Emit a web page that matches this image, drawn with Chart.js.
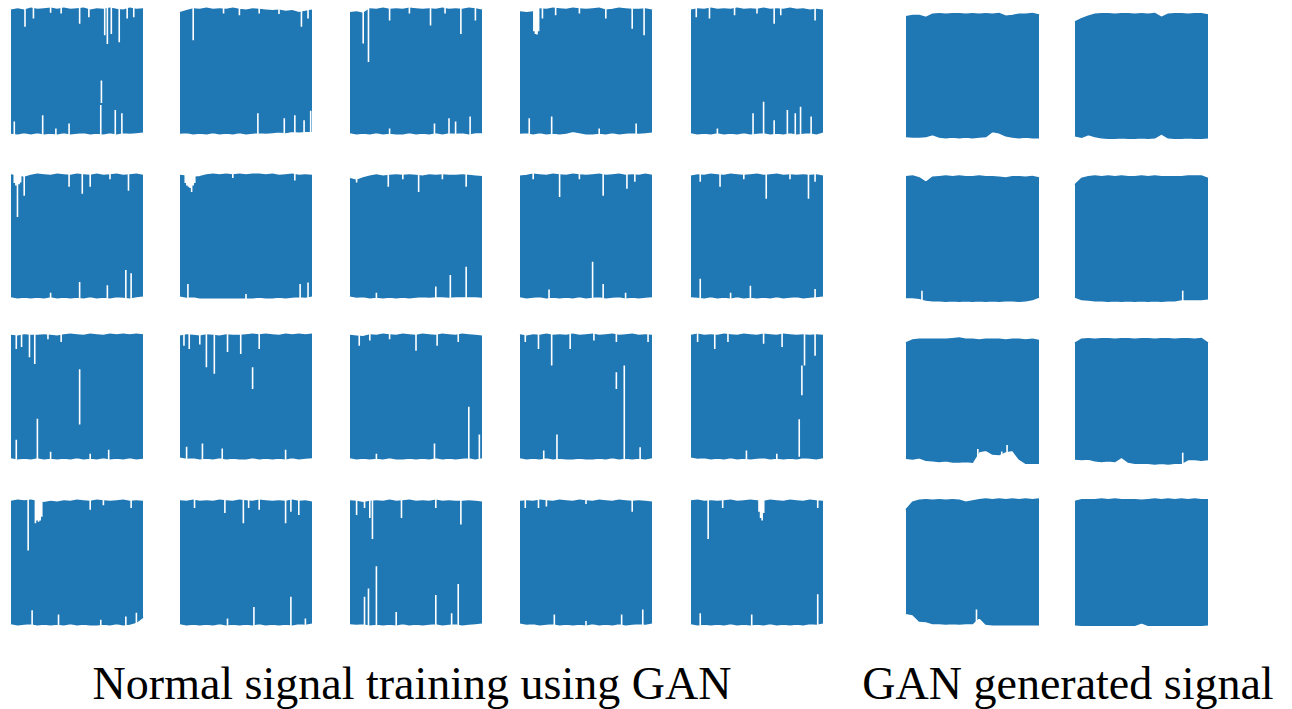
<!DOCTYPE html>
<html>
<head>
<meta charset="utf-8">
<script src="https://cdn.jsdelivr.net/npm/chart.js@4.4.1/dist/chart.umd.min.js"></script>
<style>
  body { margin: 0; background: #fff; width: 1292px; height: 709px; overflow: hidden; position: relative; }
  canvas.panel { position: absolute; }
</style>
</head>
<body>
<div id="cap1" style="position:absolute;top:661px;left:62px;width:700px;height:46px;line-height:46px;text-align:center;white-space:nowrap;color:#000;font-family:'Liberation Serif';font-size:46px;">Normal signal training using GAN</div>
<div id="cap2" style="position:absolute;top:661px;left:818px;width:500px;height:46px;line-height:46px;text-align:center;white-space:nowrap;color:#000;font-family:'Liberation Serif';font-size:46px;">GAN generated signal</div>

<script>
// sample positions along each panel (0..100)
const xSteps = [0, 5, 10, 15, 20, 25, 30, 35, 40, 45, 50, 55, 60, 65, 70, 75, 80, 85, 90, 95, 100];

// normal (training) signals, 4 rows x 5 cols, upper / lower envelope
const normalTop = [
  [0.95,0.97,0.95,0.98,0.96,0.97,0.98,0.96,0.98,0.96,0.97,0.98,0.95,0.97,0.96,0.98,0.96,0.95,0.98,0.96,0.97],
  [0.91,0.94,0.97,0.96,0.98,0.96,0.97,0.96,0.98,0.96,0.95,0.97,0.96,0.95,0.94,0.95,0.93,0.94,0.91,0.93,0.95],
  [0.91,0.92,0.90,0.97,0.96,0.98,0.96,0.97,0.96,0.98,0.97,0.96,0.97,0.96,0.98,0.96,0.97,0.96,0.98,0.97,0.95],
  [0.92,0.91,0.92,0.97,0.96,0.98,0.97,0.96,0.98,0.97,0.96,0.97,0.98,0.95,0.96,0.98,0.97,0.96,0.96,0.97,0.95],
  [0.95,0.97,0.96,0.98,0.96,0.97,0.96,0.98,0.96,0.97,0.96,0.98,0.96,0.97,0.96,0.98,0.96,0.97,0.95,0.96,0.95],
  [0.97,0.95,0.93,0.96,0.98,0.97,0.96,0.98,0.97,0.96,0.98,0.97,0.96,0.98,0.96,0.97,0.98,0.96,0.97,0.98,0.96],
  [0.96,0.95,0.93,0.94,0.97,0.98,0.97,0.98,0.97,0.98,0.97,0.98,0.98,0.97,0.98,0.96,0.97,0.98,0.96,0.97,0.96],
  [0.91,0.88,0.92,0.95,0.97,0.95,0.96,0.97,0.96,0.97,0.96,0.95,0.97,0.96,0.97,0.96,0.96,0.97,0.96,0.95,0.94],
  [0.95,0.96,0.98,0.97,0.96,0.98,0.97,0.96,0.98,0.97,0.96,0.97,0.98,0.96,0.97,0.98,0.96,0.97,0.96,0.98,0.96],
  [0.95,0.97,0.96,0.98,0.97,0.96,0.98,0.97,0.96,0.97,0.98,0.96,0.97,0.98,0.96,0.97,0.96,0.97,0.96,0.97,0.95],
  [0.96,0.95,0.97,0.96,0.96,0.97,0.96,0.95,0.97,0.98,0.97,0.96,0.98,0.97,0.96,0.98,0.97,0.98,0.97,0.98,0.97],
  [0.95,0.97,0.96,0.95,0.97,0.96,0.95,0.97,0.96,0.96,0.97,0.98,0.97,0.98,0.97,0.96,0.98,0.97,0.98,0.97,0.98],
  [0.96,0.95,0.94,0.97,0.96,0.98,0.97,0.96,0.98,0.97,0.96,0.98,0.97,0.96,0.98,0.97,0.96,0.98,0.97,0.96,0.95],
  [0.97,0.95,0.97,0.96,0.98,0.96,0.97,0.96,0.98,0.96,0.97,0.98,0.96,0.97,0.98,0.96,0.97,0.98,0.96,0.97,0.96],
  [0.96,0.98,0.96,0.97,0.96,0.98,0.97,0.96,0.98,0.97,0.96,0.98,0.97,0.96,0.98,0.97,0.96,0.97,0.96,0.97,0.96],
  [0.96,0.98,0.97,0.98,0.96,0.94,0.96,0.95,0.97,0.96,0.98,0.97,0.96,0.98,0.97,0.96,0.97,0.98,0.96,0.97,0.96],
  [0.97,0.96,0.98,0.96,0.97,0.96,0.98,0.97,0.96,0.98,0.97,0.96,0.98,0.97,0.96,0.97,0.96,0.98,0.96,0.97,0.95],
  [0.97,0.96,0.94,0.96,0.97,0.96,0.98,0.96,0.97,0.98,0.96,0.97,0.96,0.98,0.96,0.97,0.96,0.96,0.97,0.96,0.95],
  [0.96,0.97,0.96,0.98,0.97,0.96,0.98,0.97,0.96,0.98,0.97,0.96,0.98,0.97,0.96,0.98,0.97,0.96,0.97,0.96,0.95],
  [0.97,0.98,0.96,0.97,0.96,0.97,0.98,0.96,0.97,0.98,0.97,0.96,0.98,0.97,0.96,0.98,0.97,0.96,0.98,0.97,0.96]
];
const normalBottom = [
  [-0.97,-0.98,-0.96,-0.98,-0.96,-0.98,-0.97,-0.98,-0.96,-0.98,-0.97,-0.96,-0.98,-0.97,-0.98,-0.96,-0.98,-0.96,-0.97,-0.96,-0.95],
  [-0.97,-0.96,-0.98,-0.97,-0.98,-0.96,-0.98,-0.97,-0.98,-0.96,-0.98,-0.97,-0.96,-0.97,-0.96,-0.95,-0.96,-0.94,-0.95,-0.94,-0.94],
  [-0.96,-0.98,-0.97,-0.98,-0.96,-0.98,-0.97,-0.98,-0.98,-0.96,-0.98,-0.97,-0.98,-0.96,-0.98,-0.96,-0.97,-0.96,-0.98,-0.96,-0.96],
  [-0.97,-0.96,-0.98,-0.96,-0.98,-0.97,-0.98,-0.97,-0.94,-0.96,-0.98,-0.98,-0.97,-0.98,-0.96,-0.98,-0.97,-0.96,-0.97,-0.96,-0.95],
  [-0.96,-0.98,-0.97,-0.98,-0.96,-0.98,-0.97,-0.98,-0.96,-0.98,-0.97,-0.96,-0.98,-0.97,-0.98,-0.96,-0.98,-0.97,-0.96,-0.98,-0.95],
  [-0.96,-0.98,-0.97,-0.98,-0.97,-0.98,-0.96,-0.98,-0.97,-0.98,-0.97,-0.98,-0.96,-0.98,-0.97,-0.98,-0.96,-0.97,-0.98,-0.96,-0.95],
  [-0.95,-0.97,-0.96,-0.98,-0.98,-0.98,-0.98,-0.98,-0.98,-0.98,-0.98,-0.98,-0.97,-0.98,-0.98,-0.97,-0.98,-0.97,-0.96,-0.97,-0.95],
  [-0.95,-0.97,-0.96,-0.98,-0.97,-0.98,-0.97,-0.98,-0.97,-0.98,-0.97,-0.96,-0.97,-0.96,-0.96,-0.97,-0.96,-0.96,-0.96,-0.96,-0.97],
  [-0.96,-0.98,-0.97,-0.96,-0.98,-0.97,-0.98,-0.97,-0.98,-0.96,-0.98,-0.97,-0.96,-0.98,-0.97,-0.96,-0.98,-0.97,-0.98,-0.97,-0.96],
  [-0.96,-0.97,-0.98,-0.96,-0.98,-0.97,-0.98,-0.96,-0.98,-0.97,-0.98,-0.97,-0.98,-0.96,-0.98,-0.97,-0.96,-0.98,-0.97,-0.96,-0.95],
  [-0.96,-0.98,-0.97,-0.98,-0.96,-0.98,-0.97,-0.98,-0.97,-0.98,-0.96,-0.98,-0.97,-0.98,-0.96,-0.98,-0.97,-0.98,-0.96,-0.98,-0.97],
  [-0.95,-0.97,-0.96,-0.98,-0.97,-0.98,-0.96,-0.98,-0.97,-0.98,-0.98,-0.96,-0.98,-0.97,-0.98,-0.97,-0.98,-0.96,-0.98,-0.97,-0.96],
  [-0.96,-0.98,-0.97,-0.98,-0.97,-0.98,-0.96,-0.98,-0.98,-0.97,-0.98,-0.97,-0.98,-0.96,-0.98,-0.97,-0.98,-0.97,-0.96,-0.98,-0.96],
  [-0.96,-0.98,-0.97,-0.98,-0.96,-0.98,-0.97,-0.98,-0.98,-0.97,-0.98,-0.98,-0.97,-0.98,-0.96,-0.98,-0.97,-0.98,-0.97,-0.98,-0.96],
  [-0.95,-0.97,-0.96,-0.98,-0.97,-0.98,-0.96,-0.98,-0.97,-0.98,-0.97,-0.96,-0.98,-0.97,-0.98,-0.97,-0.98,-0.96,-0.97,-0.98,-0.96],
  [-0.96,-0.98,-0.97,-0.96,-0.98,-0.97,-0.98,-0.97,-0.98,-0.96,-0.98,-0.97,-0.98,-0.98,-0.97,-0.98,-0.96,-0.98,-0.97,-0.94,-0.86],
  [-0.96,-0.98,-0.97,-0.98,-0.97,-0.98,-0.96,-0.98,-0.97,-0.98,-0.97,-0.98,-0.96,-0.98,-0.97,-0.98,-0.97,-0.98,-0.96,-0.97,-0.95],
  [-0.96,-0.97,-0.96,-0.98,-0.97,-0.98,-0.97,-0.98,-0.96,-0.98,-0.97,-0.98,-0.97,-0.96,-0.98,-0.97,-0.96,-0.98,-0.97,-0.96,-0.95],
  [-0.95,-0.97,-0.96,-0.98,-0.97,-0.96,-0.98,-0.97,-0.98,-0.97,-0.98,-0.96,-0.98,-0.97,-0.98,-0.96,-0.98,-0.97,-0.96,-0.97,-0.95],
  [-0.96,-0.98,-0.97,-0.98,-0.97,-0.98,-0.96,-0.98,-0.97,-0.98,-0.97,-0.98,-0.96,-0.98,-0.97,-0.98,-0.97,-0.98,-0.96,-0.97,-0.95]
];
// narrow gaps in the signal: [x, yFrom, yTo]
const normalSlivers = [
  [[10.6,1,0.69],[17,1,0.82],[30,1,0.91],[38,1,0.9],[52,1,0.74],[59,1,0.84],[71,1,0.56],[73,1,0.42],[76,1,0.58],[82,1,0.45],[88,1,0.82],[93,1,0.84],[2.5,-1,-0.79],[24,-1,-0.69],[34,-1,-0.9],[44,-1,-0.82],[68,-1,-0.53],[68.5,-0.5,-0.15],[79,-1,-0.61],[84,-1,-0.66]],
  [[10,1,0.48],[33,1,0.9],[45,1,0.87],[60,1,0.9],[75,1,0.89],[92,1,0.69],[97,1,0.82],[59,-1,-0.66],[79,-1,-0.74],[87,-1,-0.69],[94,-1,-0.77],[99,-1,-0.62]],
  [[10,1,0.43],[14,1,0.14],[30,1,0.79],[45,1,0.9],[61,1,0.71],[72,1,0.9],[84,1,0.58],[95,1,0.79],[30,-1,-0.9],[64,-1,-0.82],[75,-1,-0.74],[80,-1,-0.79],[91,-1,-0.71]],
  [[10.5,1,0.62],[11.7,1,0.58],[12.9,1,0.57],[14.1,1,0.62],[17,1,0.82],[27,1,0.87],[45,1,0.9],[65,1,0.82],[85,1,0.66],[94,1,0.56],[7,-1,-0.74],[24,-1,-0.71],[60,-1,-0.9],[88,-1,-0.82]],
  [[4,1,0.84],[14,1,0.82],[33,1,0.87],[50,1,0.9],[63,1,0.74],[68,1,0.87],[94,1,0.79],[20,-1,-0.9],[47,-1,-0.66],[55,-1,-0.48],[63,-1,-0.77],[73,-1,-0.61],[79,-1,-0.66],[83,-1,-0.56],[91,-1,-0.71]],
  [[2.5,1,0.84],[3.7,1,0.8],[4.9,1,0.3],[6.1,1,0.82],[7.3,1,0.85],[10,1,0.64],[44,1,0.78],[54,1,0.67],[60,1,0.78],[75,1,0.9],[89,1,0.72],[30,-1,-0.9],[52,-1,-0.73],[73,-1,-0.78],[87,-1,-0.54],[91,-1,-0.59]],
  [[4,1,0.84],[5.2,1,0.8],[6.4,1,0.78],[7.6,1,0.76],[8.8,1,0.7],[10,1,0.8],[11.2,1,0.84],[40,1,0.92],[87,1,0.88],[6,-1,-0.76],[50,-1,-0.92],[91,-1,-0.76],[97,-1,-0.74]],
  [[5,1,0.85],[29,1,0.78],[40,1,0.9],[52,1,0.7],[70,1,0.9],[88,1,0.78],[20,-1,-0.9],[65,-1,-0.8],[76,-1,-0.62],[88,-1,-0.49]],
  [[10,1,0.9],[30,1,0.62],[45,1,0.9],[63,1,0.64],[81,1,0.75],[87,1,0.86],[22,-1,-0.85],[55,-1,-0.41],[63,-1,-0.76],[80,-1,-0.9]],
  [[7,1,0.86],[22,1,0.78],[40,1,0.9],[57,1,0.59],[75,1,0.9],[89,1,0.59],[94,1,0.86],[7,-1,-0.68],[30,-1,-0.9],[45,-1,-0.79],[94,-1,-0.84]],
  [[4,1,0.75],[8,1,0.78],[14,1,0.62],[18,1,0.51],[28,1,0.9],[38,1,0.86],[52,0.43,-0.44],[20,-0.35,-1],[4,-1,-0.68],[30,-1,-0.87],[60,-1,-0.9],[74,-1,-0.84]],
  [[3,1,0.8],[7,1,0.75],[15,1,0.82],[20,1,0.46],[26,1,0.36],[36,1,0.7],[46,1,0.67],[55,0.46,0.12],[60,1,0.75],[5,-1,-0.79],[17,-1,-0.74],[32,-1,-0.82],[80,-1,-0.84]],
  [[7,1,0.8],[15,1,0.88],[30,1,0.9],[50,1,0.72],[66,1,0.8],[82,1,0.86],[20,-1,-0.9],[64,-1,-0.74],[90,-1,-0.16],[98,-1,-0.6]],
  [[4,1,0.86],[14,1,0.75],[24,1,0.49],[38,1,0.75],[56,1,0.88],[73,1,0.86],[79,0.49,-1],[73,0.38,0.12],[97,1,0.86],[18,-1,-0.85],[28,-1,-0.6],[91,-1,-0.8]],
  [[5,1,0.86],[18,1,0.75],[28,1,0.86],[55,1,0.83],[69,1,0.78],[86,1,0.49],[94,1,0.64],[82,-0.36,-0.95],[84,0.49,0.02],[42,-1,-0.85],[65,-1,-0.9]],
  [[13,1,0.19],[18.5,1,0.62],[19.7,1,0.66],[20.9,1,0.64],[22.1,1,0.66],[23.3,1,0.72],[60,1,0.83],[70,1,0.9],[91,1,0.86],[16,-1,-0.75],[36,-1,-0.82],[68,-1,-0.9],[87,-1,-0.85],[95,-1,-0.79]],
  [[11,1,0.86],[34,1,0.78],[48,1,0.62],[52,1,0.86],[60,1,0.83],[80,1,0.62],[84,1,0.8],[90,1,0.75],[36,-1,-0.88],[56,-1,-0.7],[84,-1,-0.54],[95,-1,-0.88]],
  [[5,1,0.75],[11,1,0.86],[15,1,0.7],[17,1,0.37],[39,1,0.7],[65,1,0.86],[84,1,0.6],[20,-1,-0.06],[11,-1,-0.54],[14,-1,-0.41],[35,-1,-0.78],[65,-1,-0.51],[77,-1,-0.8],[82,-1,-0.34]],
  [[4,1,0.86],[14,1,0.86],[20,1,0.88],[50,1,0.92],[85,1,0.8],[26,-1,-0.82],[50,-1,-0.92],[77,-1,-0.82],[93,-1,-0.74]],
  [[13,1,0.37],[24,1,0.86],[51.5,1,0.8],[52.7,1,0.7],[53.9,1,0.66],[55.1,1,0.78],[96,1,0.86],[7,-1,-0.8],[46,-1,-0.82],[96,-1,-0.5]]
];

// GAN generated signals, 4 rows x 2 cols
const ganTop = [
  [0.94,0.96,0.96,0.93,0.98,0.99,0.98,0.99,0.99,0.98,0.99,0.98,0.99,0.98,0.99,0.95,0.96,0.98,0.98,0.99,0.97],
  [0.86,0.91,0.95,0.98,0.99,0.99,0.98,0.99,0.99,0.98,0.99,0.98,0.99,0.93,0.98,0.99,0.99,0.98,0.99,0.99,0.97],
  [0.99,1.00,0.97,0.90,0.98,0.99,1.00,0.99,1.00,0.99,0.99,1.00,0.99,0.99,0.98,0.97,0.99,0.99,0.98,0.99,0.97],
  [0.86,0.96,0.99,1.00,0.99,1.00,0.99,1.00,0.99,0.99,1.00,0.99,1.00,0.99,0.99,0.99,0.99,1.00,1.00,1.00,0.96],
  [0.92,0.97,0.98,0.98,0.98,0.98,0.98,0.99,1.00,0.98,0.98,0.97,0.98,0.98,0.98,0.97,0.98,0.98,0.97,0.98,0.96],
  [0.92,0.98,0.99,0.98,0.99,0.99,0.98,0.99,0.99,0.98,0.99,0.99,0.98,0.99,0.99,0.98,0.99,0.99,0.98,0.99,0.92],
  [0.83,0.95,0.98,0.99,0.98,0.99,0.98,0.99,0.98,0.95,0.97,0.99,1.00,0.99,1.00,0.99,1.00,0.99,1.00,0.99,1.00],
  [0.96,0.99,0.99,0.99,1.00,0.99,1.00,0.99,0.99,0.99,0.98,0.99,1.00,0.99,1.00,0.99,1.00,0.99,1.00,0.99,0.99]
];
const ganBottom = [
  [-0.96,-0.97,-0.97,-0.96,-0.93,-0.97,-0.98,-0.97,-0.98,-0.97,-0.98,-0.97,-0.96,-0.88,-0.90,-0.95,-0.97,-0.98,-0.97,-0.98,-0.98],
  [-0.95,-0.97,-0.93,-0.96,-0.98,-0.99,-0.99,-0.98,-0.99,-0.99,-0.98,-0.99,-0.98,-0.92,-0.98,-0.99,-0.99,-0.98,-0.99,-0.99,-0.98],
  [-0.93,-0.93,-0.94,-0.97,-0.98,-0.98,-0.99,-0.98,-0.99,-0.98,-0.99,-0.98,-0.99,-0.98,-0.99,-0.98,-0.98,-0.99,-0.98,-0.96,-0.92],
  [-0.92,-0.96,-0.97,-0.98,-0.98,-0.99,-0.98,-0.99,-0.98,-0.99,-0.98,-0.99,-0.98,-0.99,-0.98,-0.98,-0.96,-0.96,-0.96,-0.96,-0.95],
  [-0.91,-0.92,-0.90,-0.94,-0.95,-0.96,-0.95,-0.97,-0.97,-0.96,-0.97,-0.80,-0.78,-0.84,-0.85,-0.80,-0.78,-0.92,-0.99,-0.99,-0.99],
  [-0.92,-0.93,-0.92,-0.95,-0.96,-0.95,-0.96,-0.89,-0.97,-0.99,-0.99,-0.99,-1.00,-0.99,-1.00,-0.99,-0.99,-0.93,-0.93,-0.94,-0.93],
  [-0.80,-0.82,-0.92,-0.93,-0.96,-0.96,-0.97,-0.96,-0.97,-0.96,-0.96,-0.86,-0.97,-0.98,-0.98,-0.98,-0.98,-0.98,-0.98,-0.98,-0.98],
  [-0.98,-0.99,-0.99,-0.99,-0.99,-0.99,-0.99,-0.99,-0.99,-0.99,-0.95,-0.99,-0.99,-0.99,-0.99,-0.99,-0.99,-0.99,-0.99,-0.99,-0.98]
];
const ganSlivers = [
  [],
  [],
  [[12,-1,-0.82]],
  [[81,-1,-0.82]],
  [[54,-1,-0.76],[72,-1,-0.80],[76,-1,-0.70]],
  [[81,-1,-0.82]],
  [[53,-1,-0.74]],
  []
];

const BLUE = '#1f77b4';
const PAD = 4;

// lay the captions out (and resolve their font) before the charts are built
['cap1', 'cap2'].forEach(id => document.getElementById(id).getBoundingClientRect());

function sliverPoints(list) {
  const pts = [];
  list.forEach(s => {
    pts.push({ x: s[0], y: s[1] }, { x: s[0], y: s[2] }, { x: s[0], y: null });
  });
  return pts;
}

function makePanel(left, top, w, h, upper, lower, slivers) {
  const c = document.createElement('canvas');
  c.className = 'panel';
  c.width = w + 2 * PAD;
  c.height = h + 2 * PAD;
  c.style.left = (left - PAD) + 'px';
  c.style.top = (top - PAD) + 'px';
  document.body.appendChild(c);

  const xPad = PAD * 100 / w;
  const yLim = 1 + PAD / (h / 2);

  new Chart(c.getContext('2d'), {
    type: 'line',
    data: {
      datasets: [
        {
          data: sliverPoints(slivers),
          borderColor: '#ffffff',
          borderWidth: 1.6,
          spanGaps: false,
          fill: false,
          order: 0,
        },
        {
          data: xSteps.map((x, i) => ({ x: x, y: upper[i] })),
          borderColor: BLUE,
          backgroundColor: BLUE,
          borderWidth: 1.5,
          fill: '+1',
          order: 1,
        },
        {
          data: xSteps.map((x, i) => ({ x: x, y: lower[i] })),
          borderColor: BLUE,
          borderWidth: 1.5,
          fill: false,
          order: 1,
        }
      ]
    },
    options: {
      responsive: false,
      animation: false,
      events: [],
      layout: { padding: 0 },
      elements: { point: { radius: 0 }, line: { tension: 0 } },
      plugins: { legend: { display: false }, tooltip: { enabled: false } },
      scales: {
        x: { type: 'linear', display: false, min: -xPad, max: 100 + xPad },
        y: { type: 'linear', display: false, min: -yLim, max: yLim }
      }
    }
  });
}

const leftCols = [11, 180, 350, 520, 691];
const leftRows = [[7, 128], [173, 126], [333, 127], [499, 127]];
const rightCols = [906, 1075];
const rightRows = [[13, 126], [176, 126], [338, 126], [499, 127]];

leftRows.forEach((r, ri) => {
  leftCols.forEach((cx, ci) => {
    const k = ri * 5 + ci;
    makePanel(cx, r[0], 132, r[1], normalTop[k], normalBottom[k], normalSlivers[k]);
  });
});
rightRows.forEach((r, ri) => {
  rightCols.forEach((cx, ci) => {
    const k = ri * 2 + ci;
    makePanel(cx, r[0], 133, r[1], ganTop[k], ganBottom[k], ganSlivers[k]);
  });
});
</script>
</body>
</html>
